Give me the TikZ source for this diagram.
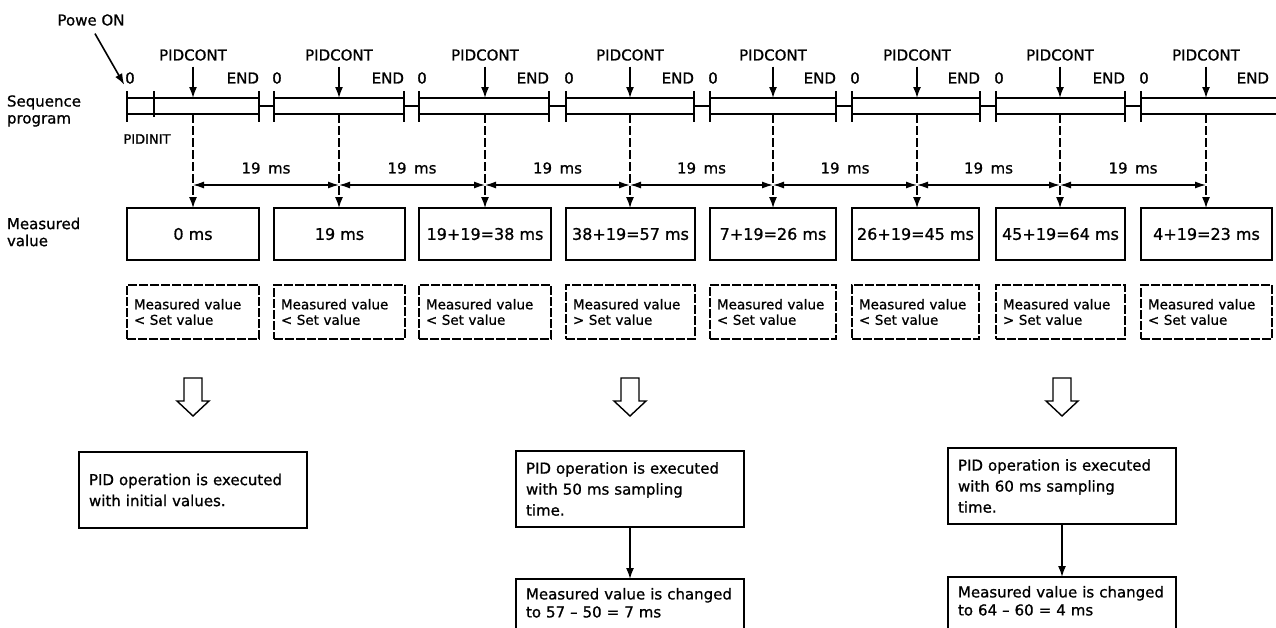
\documentclass[tikz,border=0pt]{standalone}
\usepackage{fontspec}
\setmainfont{DejaVu Sans}[FakeBold=0.9]
\usetikzlibrary{arrows.meta}
\begin{document}
\begin{tikzpicture}[x=1pt,y=-1pt,line width=1.6pt,
  every node/.style={outer sep=0pt},
  lab/.style={font=\fontsize{15}{17}\selectfont, inner sep=1pt},
  segbox/.style={draw, inner sep=0pt, minimum height=16pt},
  valbox/.style={draw, inner sep=0pt, minimum height=52pt, font=\fontsize{16}{18}\selectfont},
  cmpbox/.style={draw, dash pattern=on 9pt off 2pt, inner xsep=7pt, inner ysep=0pt,
    minimum height=54pt, align=left, font=\fontsize{13.5}{15.5}\selectfont},
  resbox/.style={draw, inner xsep=10pt, text width=208pt, minimum height=76pt,
    align=left, font=\fontsize{15}{21}\selectfont},
  restext/.style={inner xsep=10pt, inner ysep=9pt, text width=208pt, align=left,
    font=\fontsize{15}{18}\selectfont},
  tip/.style={-{Latex[length=11pt,width=8pt]}},
  dim/.style={{Latex[length=11pt,width=7pt]}-{Latex[length=11pt,width=7pt]}, line width=1.3pt},
  dropline/.style={dash pattern=on 9pt off 3pt, line width=1.3pt},
  hollow/.style={line width=1.4pt, line join=miter}]

\useasboundingbox (0,0) rectangle (1276,627);

% left-hand row labels
\node[lab, anchor=west, align=left] (seq) at (6,111) {Sequence\\program};
\node[lab, anchor=west, align=left] (mv) at (6,232) {Measured\\value};

% scan segments, PIDCONT calls, measured values and comparisons
\foreach \i/\s/\e/\p/\be/\t/\c in {
  1/127/259/193/259/{0 ms}/<,
  2/274/404/339/405/{19 ms}/<,
  3/419/549/485/551/{19+19=38 ms}/<,
  4/566/694/630/695/{38+19=57 ms}/>,
  5/710/836/773/836/{7+19=26 ms}/<,
  6/852/980/917/979/{26+19=45 ms}/<,
  7/996/1125/1060/1125/{45+19=64 ms}/>,
  8/1141/1310/1206/1272/{4+19=23 ms}/<}
{
  \pgfmathsetmacro\w{\e-\s}
  \pgfmathsetmacro\bw{\be-\s}
  \pgfmathsetmacro\tw{\be-\s-14}
  \node[segbox, minimum width=\w pt, anchor=north west] (seg\i) at (\s,98) {};
  \draw (\s,91) -- (\s,122);
  \ifnum\i<8
    \draw (\e,91) -- (\e,122);
    \node[lab, anchor=east] (end\i) at (\e+1,78) {END};
  \fi
  \node[lab] (z\i) at (\s+3,78) {0};
  \node[lab] (pc\i) at (\p,55) {PIDCONT};
  \draw[tip, shorten <=5pt] (pc\i.south) -- (pc\i.south |- seg\i.north);
  \node[valbox, minimum width=\bw pt, anchor=north west] (val\i) at (\s,208) {\t};
  \node[cmpbox, text width=\tw pt, anchor=north west] (cmp\i) at (\s,285)
    {Measured value\\\c\ Set value};
  \draw[dropline, tip] (pc\i |- seg\i.south) -- (pc\i |- val\i.north);
  \coordinate (d\i) at (\p,185);
}
\node[lab, anchor=east] (end8) at (1270,78) {END};

% PIDINIT block inside the first scan
\draw (154,91) -- (154,117);
\node[font=\fontsize{13}{15}\selectfont, inner sep=1pt] (init) at (147,139) {PIDINIT};

% links between consecutive scans
\foreach \i/\j in {1/2,2/3,3/4,4/5,5/6,6/7,7/8}
  \draw (seg\i.east) -- (seg\j.west);

% 19 ms intervals
\foreach \i/\j in {1/2,2/3,3/4,4/5,5/6,6/7,7/8}
  \draw[dim] (d\i) -- node[lab, midway, yshift=17pt] (ms\i) {19\hspace{0.5em}ms} (d\j);

% power on
\node[lab] (pw) at (91,20) {Powe ON};
\draw[tip, shorten <=8pt] (pw.south) -- (z1.south west);

% hollow arrows
\foreach \x in {193,630,1062}
  \draw[hollow] (\x-9,378) -- (\x+9,378) -- (\x+9,401) -- (\x+16,401) -- (\x,416)
    -- (\x-16,401) -- (\x-9,401) -- cycle;

% resulting PID operations
\node[resbox] (resA) at (193,490) {PID operation is executed\\with initial values.};
\node[resbox] (resB) at (630,489) {PID operation is executed\\with 50 ms sampling\\time.};
\node[resbox] (resC) at (1062,486) {PID operation is executed\\with 60 ms sampling\\time.};

\node[restext, anchor=north] (resB2) at (630,579) {Measured value is changed\\to 57 -- 50 = 7 ms};
\node[restext, anchor=north] (resC2) at (1062,577) {Measured value is changed\\to 64 -- 60 = 4 ms};
\foreach \n in {resB2,resC2}
  \draw (\n.north west |- 0,650) -- (\n.north west) -- (\n.north east) -- (\n.north east |- 0,650);

\draw[tip] (resB) -- (resB2);
\draw[tip] (resC) -- (resC2);
\end{tikzpicture}
\end{document}
